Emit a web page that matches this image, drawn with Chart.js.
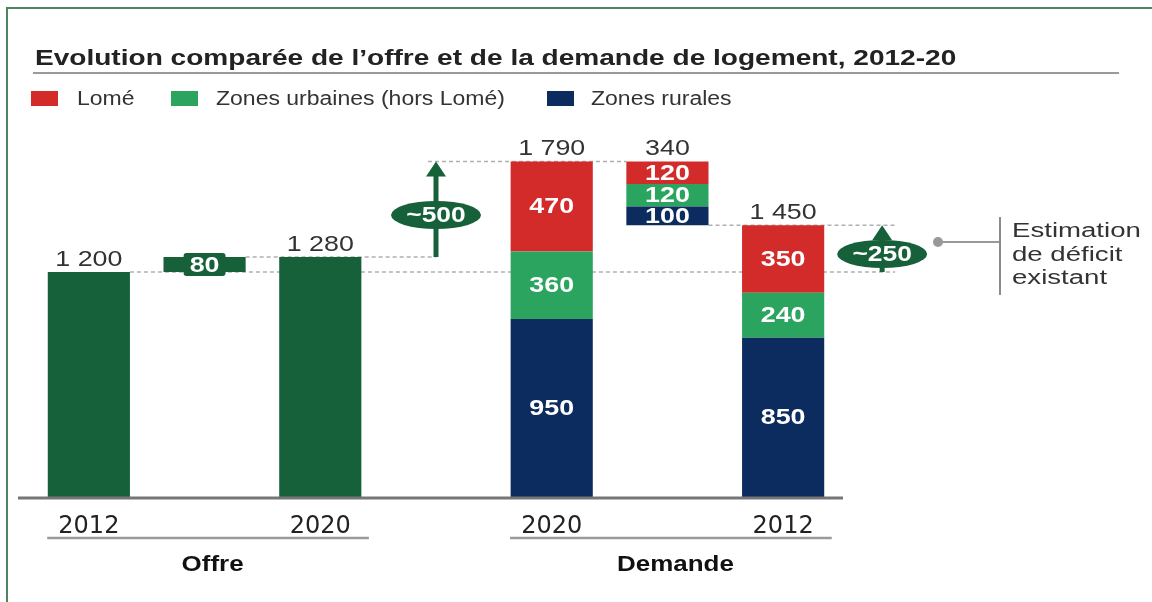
<!DOCTYPE html>
<html>
<head>
<meta charset="utf-8">
<script src="https://cdn.jsdelivr.net/npm/chart.js@4"></script>
<style>
  html, body { margin: 0; padding: 0; background: #fff; }
  body { width: 1152px; height: 602px; position: relative; overflow: hidden; font-family: "Liberation Sans", Arial, sans-serif; }
  #frame { position: absolute; left: 6px; top: 7px; right: -4px; bottom: -4px; border-top: 2px solid #4d8560; border-left: 2px solid #4d8560; }
  canvas { position: absolute; left: 0; top: 0; }
  .txt { position: absolute; white-space: nowrap; transform-origin: 0 0; color: #222; }
  #title { left: 35px; top: 45px; font-weight: bold; font-size: 22px; transform: scaleX(1.275); }
  #rule { position: absolute; left: 33px; top: 72px; width: 1086px; height: 2px; background: #9a9a9a; }
  .sw { position: absolute; top: 91px; width: 27px; height: 15px; }
  .lg { top: 87px; font-size: 20px; color: #333; transform: scaleX(1.15); }
  #note { left: 1012px; top: 219px; font-size: 20px; line-height: 23.5px; color: #333; transform: scaleX(1.38); }
</style>
</head>
<body>
<div id="frame"></div>
<canvas id="chart" width="1152" height="602"></canvas>
<div id="title" class="txt">Evolution comparée de l’offre et de la demande de logement, 2012-20</div>
<div id="rule"></div>
<div class="sw" style="left:31px;background:#d32a2a"></div>
<div class="txt lg" style="left:77px">Lomé</div>
<div class="sw" style="left:171px;background:#2ba460"></div>
<div class="txt lg" style="left:216px">Zones urbaines (hors Lomé)</div>
<div class="sw" style="left:547px;background:#0c2b5e"></div>
<div class="txt lg" style="left:591px">Zones rurales</div>
<div id="note" class="txt">Estimation<br>de déficit<br>existant</div>
<script>
// Data
const categories = ['2012', '', '2020', '', '2020', '', '2012'];
const offre = [1200, 80, 1280];        // 2012, variation, 2020
const lome = [470, 120, 350];          // demande 2020, variation, demande 2012
const urbaines = [360, 120, 240];
const rurales = [950, 100, 850];
const demandeTotals = [1790, 340, 1450];
const gapLabels = ['~500', '~250'];
const groups = ['Offre', 'Demande'];

const GREEN_DARK = '#17613a';
const RED = '#d32a2a';
const GREEN = '#2ba460';
const NAVY = '#0c2b5e';

// floating bars: offre at index 0..2, demande at 4..6
const offreData = [[0, offre[0]], [offre[0], offre[2]], [0, offre[2]], null, null, null, null];
const bases = [0, demandeTotals[2], 0];
const ruralData = [null, null, null, null];
const urbData = [null, null, null, null];
const lomeData = [null, null, null, null];
bases.forEach((b, i) => {
    ruralData.push([b, b + rurales[i]]);
    urbData.push([b + rurales[i], b + rurales[i] + urbaines[i]]);
    // top segment closes on the published (rounded) total
    lomeData.push([b + rurales[i] + urbaines[i], b + demandeTotals[i]]);
});
const segValues = { offre: [offre[0], offre[1], offre[2]], rural: rurales, urb: urbaines, lome: lome };

const fmt = n => String(n).replace(/\B(?=(\d{3})+(?!\d))/g, ' ');
const FONT = '"Liberation Sans", Arial, sans-serif';

function stretchText(ctx, text, x, y, sx) {
    ctx.save();
    ctx.translate(x, y);
    ctx.scale(sx, 1);
    ctx.fillText(text, 0, 0);
    ctx.restore();
}

function dashed(ctx, x1, x2, y) {
    ctx.save();
    ctx.strokeStyle = '#b0b0b0';
    ctx.lineWidth = 1.5;
    ctx.setLineDash([4, 3]);
    ctx.beginPath();
    ctx.moveTo(x1, y);
    ctx.lineTo(x2, y);
    ctx.stroke();
    ctx.restore();
}

function gapArrow(ctx, x, yBottom, yTop, label, cy) {
    ctx.save();
    ctx.fillStyle = GREEN_DARK;
    ctx.strokeStyle = GREEN_DARK;
    ctx.lineWidth = 5;
    ctx.beginPath();
    ctx.moveTo(x, yBottom);
    ctx.lineTo(x, yTop + 12);
    ctx.stroke();
    ctx.beginPath();
    ctx.moveTo(x, yTop);
    ctx.lineTo(x - 10, yTop + 15);
    ctx.lineTo(x + 10, yTop + 15);
    ctx.closePath();
    ctx.fill();
    ctx.beginPath();
    ctx.ellipse(x, cy, 45, 14, 0, 0, Math.PI * 2);
    ctx.fill();
    ctx.fillStyle = '#fff';
    ctx.font = 'bold 22px ' + FONT;
    ctx.textBaseline = 'middle';
    ctx.textAlign = 'center';
    stretchText(ctx, label, x, cy + 1, 1.2);
    ctx.restore();
}

const decorations = {
    id: 'decorations',
    beforeDatasetsDraw(chart) {
        const { ctx, scales: { x, y } } = chart;
        const step = x.getPixelForValue(1) - x.getPixelForValue(0);
        const bw = step * 0.71 / 2;
        // connectors
        dashed(ctx, x.getPixelForValue(0) + bw, x.getPixelForValue(6) + 112, y.getPixelForValue(offre[0]));
        dashed(ctx, x.getPixelForValue(1) + bw, x.getPixelForValue(3), y.getPixelForValue(offre[2]));
        dashed(ctx, x.getPixelForValue(3) - 8, x.getPixelForValue(5) - bw, y.getPixelForValue(demandeTotals[0]));
        dashed(ctx, x.getPixelForValue(5) + bw, x.getPixelForValue(6) + 112, y.getPixelForValue(demandeTotals[2]));
    },
    afterDatasetsDraw(chart) {
        const { ctx, scales: { x, y }, chartArea } = chart;
        const step = x.getPixelForValue(1) - x.getPixelForValue(0);
        // baseline
        ctx.save();
        ctx.strokeStyle = '#767676';
        ctx.lineWidth = 3;
        ctx.beginPath();
        ctx.moveTo(chartArea.left - 13, chartArea.bottom + 1);
        ctx.lineTo(chartArea.right + 2, chartArea.bottom + 1);
        ctx.stroke();
        ctx.restore();

        // values inside segments
        const keys = ['offre', 'rural', 'urb', 'lome'];
        ctx.save();
        ctx.fillStyle = '#fff';
        ctx.font = 'bold 22px ' + FONT;
        ctx.textAlign = 'center';
        ctx.textBaseline = 'middle';
        chart.data.datasets.forEach((ds, di) => {
            const meta = chart.getDatasetMeta(di);
            let k = 0;
            meta.data.forEach((bar, i) => {
                if (!ds.data[i]) return;
                const v = segValues[keys[di]][k++];
                if (di === 0 && i !== 1) return;
                const cy = (bar.y + bar.base) / 2;
                if (di === 0) {
                    ctx.save();
                    ctx.fillStyle = GREEN_DARK;
                    ctx.beginPath();
                    ctx.roundRect(bar.x - 21, cy - 11.5, 42, 23, 3);
                    ctx.fill();
                    ctx.restore();
                }
                stretchText(ctx, fmt(v), bar.x, cy + 1, 1.22);
            });
        });
        ctx.restore();

        // totals above bars
        const tops = [[0, offre[0]], [2, offre[2]], [4, demandeTotals[0]], [5, demandeTotals[1]], [6, demandeTotals[2]]];
        ctx.save();
        ctx.fillStyle = '#333';
        ctx.font = '22px ' + FONT;
        ctx.textAlign = 'center';
        ctx.textBaseline = 'alphabetic';
        tops.forEach(([i, v]) => {
            const top = (i === 4 || i === 5) ? demandeTotals[0] : v;
            stretchText(ctx, fmt(v), x.getPixelForValue(i), y.getPixelForValue(top) - 6, 1.22);
        });
        ctx.restore();

        // gap arrows
        gapArrow(ctx, x.getPixelForValue(3), y.getPixelForValue(offre[2]), y.getPixelForValue(demandeTotals[0]), gapLabels[0], 215);
        gapArrow(ctx, x.getPixelForValue(6) + 99, y.getPixelForValue(offre[0]), y.getPixelForValue(demandeTotals[2]), gapLabels[1], 254);

        // connector to the note
        ctx.save();
        ctx.strokeStyle = '#999';
        ctx.fillStyle = '#999';
        ctx.lineWidth = 2;
        ctx.beginPath();
        ctx.moveTo(938, 242);
        ctx.lineTo(1000, 242);
        ctx.stroke();
        ctx.beginPath();
        ctx.arc(938, 242, 5, 0, Math.PI * 2);
        ctx.fill();
        ctx.strokeStyle = '#8a8a8a';
        ctx.beginPath();
        ctx.moveTo(1000, 217);
        ctx.lineTo(1000, 295);
        ctx.stroke();
        ctx.restore();

        // group labels with rules
        ctx.save();
        const yRule = chartArea.bottom + 41;
        [[0, 2], [4, 6]].forEach(([a, b], g) => {
            const xa = x.getPixelForValue(a) - step * 0.36;
            const xb = x.getPixelForValue(b) + step * 0.42;
            ctx.strokeStyle = '#9a9a9a';
            ctx.lineWidth = 2.5;
            ctx.beginPath();
            ctx.moveTo(xa, yRule);
            ctx.lineTo(xb, yRule);
            ctx.stroke();
            ctx.fillStyle = '#111';
            ctx.font = 'bold 22px ' + FONT;
            ctx.textAlign = 'center';
            ctx.textBaseline = 'middle';
            stretchText(ctx, groups[g], (x.getPixelForValue(a) + x.getPixelForValue(b)) / 2 + 8, chartArea.bottom + 68, 1.18);
        });
        ctx.restore();
    }
};

new Chart(document.getElementById('chart'), {
    type: 'bar',
    data: {
        labels: categories,
        datasets: [
            { label: 'Offre', data: offreData, backgroundColor: GREEN_DARK },
            { label: 'Zones rurales', data: ruralData, backgroundColor: NAVY },
            { label: 'Zones urbaines (hors Lomé)', data: urbData, backgroundColor: GREEN },
            { label: 'Lomé', data: lomeData, backgroundColor: RED }
        ]
    },
    options: {
        responsive: false,
        animation: false,
        events: [],
        layout: { padding: { left: 31, right: 311, top: 122, bottom: 0 } },
        datasets: { bar: { barPercentage: 0.71, categoryPercentage: 1 } },
        scales: {
            x: {
                stacked: true,
                grid: { display: false, drawTicks: false },
                border: { display: false },
                ticks: { color: '#222', font: { family: '"DejaVu Sans", sans-serif', size: 24 }, padding: 15, autoSkip: false, maxRotation: 0 },
                afterFit: scale => { scale.height = 105; }
            },
            y: { display: false, stacked: false, min: 0, max: 2000 }
        },
        plugins: { legend: { display: false }, tooltip: { enabled: false }, title: { display: false } }
    },
    plugins: [decorations]
});
</script>
</body>
</html>
